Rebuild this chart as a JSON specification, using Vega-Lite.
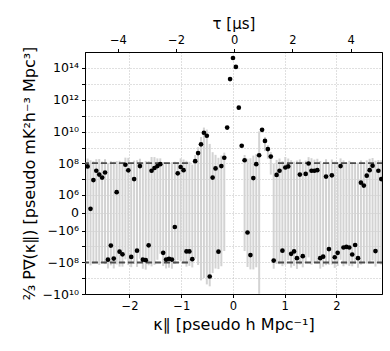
{
  "$schema": "https://vega.github.io/schema/vega-lite/v6.json",
  "width": 297,
  "height": 242,
  "autosize": {"type": "none"},
  "padding": {"left": 85, "top": 52, "right": 8, "bottom": 57},
  "background": "white",
  "config": {
    "font": "DejaVu Sans",
    "view": {"stroke": "black", "strokeWidth": 1},
    "axis": {
      "domainColor": "black",
      "tickColor": "black",
      "labelColor": "black",
      "titleColor": "black",
      "titleFontWeight": "normal",
      "labelFont": "DejaVu Sans",
      "titleFont": "DejaVu Sans",
      "labelOverlap": false,
      "labelBound": false,
      "labelFlush": false
    }
  },
  "datasets": {
    "pk": [
      {"k": -2.81, "P": 6.5e7, "lo": -7.5e7, "hi": 2.05e8},
      {"k": -2.7538, "P": 6.3e4, "lo": -1.599e8, "hi": 1.6e8},
      {"k": -2.6976, "P": 9e6, "lo": -1.21e8, "hi": 1.39e8},
      {"k": -2.6414, "P": 3.5e7, "lo": -1.15e8, "hi": 1.85e8},
      {"k": -2.5852, "P": 2e7, "lo": -1.5e8, "hi": 1.9e8},
      {"k": -2.529, "P": 1.3e7, "lo": -1.07e8, "hi": 1.33e8},
      {"k": -2.4728, "P": 2.7e7, "lo": -1.33e8, "hi": 1.87e8},
      {"k": -2.4166, "P": -7e7, "lo": -2.5e8, "hi": 1.1e8},
      {"k": -2.3604, "P": -9e6, "lo": -1.59e8, "hi": 1.41e8},
      {"k": -2.3042, "P": -6e7, "lo": -2.5e8, "hi": 1.3e8},
      {"k": -2.248, "P": 1.5e6, "lo": -1.385e8, "hi": 1.415e8},
      {"k": -2.1918, "P": -2.2e7, "lo": -1.92e8, "hi": 1.48e8},
      {"k": -2.1356, "P": -3.2e7, "lo": -1.92e8, "hi": 1.28e8},
      {"k": -2.0794, "P": 8.3e7, "lo": -6.7e7, "hi": 2.33e8},
      {"k": -2.0232, "P": 3.7e7, "lo": -1.53e8, "hi": 2.27e8},
      {"k": -1.967, "P": -4.7e7, "lo": -2.07e8, "hi": 1.13e8},
      {"k": -1.9108, "P": 1.05e7, "lo": -1.295e8, "hi": 1.505e8},
      {"k": -1.8546, "P": -1.9e7, "lo": -1.99e8, "hi": 1.61e8},
      {"k": -1.7984, "P": 6.9e7, "lo": -6.1e7, "hi": 1.99e8},
      {"k": -1.7422, "P": -7e7, "lo": -2.6e8, "hi": 1.2e8},
      {"k": -1.686, "P": -7.5e7, "lo": -2.95e8, "hi": 1.45e8},
      {"k": -1.6298, "P": -8.7e6, "lo": -1.587e8, "hi": 1.413e8},
      {"k": -1.5736, "P": 3.5e7, "lo": -1.85e8, "hi": 2.55e8},
      {"k": -1.5174, "P": 5.2e7, "lo": -1.48e8, "hi": 2.52e8},
      {"k": -1.4612, "P": 6.9e7, "lo": -7.1e7, "hi": 2.09e8},
      {"k": -1.405, "P": 9e7, "lo": -3e7, "hi": 2.1e8},
      {"k": -1.3488, "P": -2.6e7, "lo": -1.76e8, "hi": 1.24e8},
      {"k": -1.2926, "P": -6.9e7, "lo": -2.49e8, "hi": 1.11e8},
      {"k": -1.2364, "P": -6.2e7, "lo": -2.22e8, "hi": 9.8e7},
      {"k": -1.1802, "P": -6.9e7, "lo": -2.59e8, "hi": 1.21e8},
      {"k": -1.124, "P": -5.4e5, "lo": -1.305e8, "hi": 1.295e8},
      {"k": -1.0678, "P": 2.4e7, "lo": -7.6e7, "hi": 1.24e8},
      {"k": -1.0116, "P": 6e7, "lo": -9e7, "hi": 2.1e8},
      {"k": -0.9554, "P": 3.8e7, "lo": -1.02e8, "hi": 1.78e8},
      {"k": -0.8992, "P": -2.1e7, "lo": -1.91e8, "hi": 1.49e8},
      {"k": -0.843, "P": -2.1e7, "lo": -1.71e8, "hi": 1.29e8},
      {"k": -0.7868, "P": -6.5e7, "lo": -2.15e8, "hi": 8.5e7},
      {"k": -0.7306, "P": 1.4e8, "lo": -6e7, "hi": 3.4e8},
      {"k": -0.6744, "P": 4.5e8, "lo": -1.5e8, "hi": 1.05e9},
      {"k": -0.6182, "P": 1.6e9, "lo": -1.4e9, "hi": 4.6e9},
      {"k": -0.562, "P": 8.5e9, "lo": -1e9, "hi": 1.8e10},
      {"k": -0.5058, "P": 5.5e9, "lo": -2.5e9, "hi": 1.35e10},
      {"k": -0.4496, "P": -8e8, "lo": -3.3e9, "hi": 1.7e9},
      {"k": -0.3934, "P": 1.3e7, "lo": -4.87e8, "hi": 5.13e8},
      {"k": -0.3372, "P": 4.9e7, "lo": -2.51e8, "hi": 3.49e8},
      {"k": -0.281, "P": -2.2e7, "lo": -2.72e8, "hi": 2.28e8},
      {"k": -0.2248, "P": 6.9e7, "lo": -1.81e8, "hi": 3.19e8},
      {"k": -0.1686, "P": 2.3e8, "lo": -2e7, "hi": 4.8e8},
      {"k": -0.1124, "P": 1.8e10, "lo": 1.7e10, "hi": 1.9e10},
      {"k": -0.0562, "P": 2e13, "lo": 1.9e13, "hi": 2.1e13},
      {"k": 0, "P": 4.2e14, "lo": 4.1e14, "hi": 4.3e14},
      {"k": 0.0562, "P": 1.15e14, "lo": 1.1e14, "hi": 1.2e14},
      {"k": 0.1124, "P": 3.2e11, "lo": 3e11, "hi": 3.4e11},
      {"k": 0.1686, "P": 1.3e9, "lo": 1e9, "hi": 1.6e9},
      {"k": 0.2248, "P": 1.6e8, "lo": -2e7, "hi": 3.4e8},
      {"k": 0.281, "P": -1.3e6, "lo": -2.013e8, "hi": 1.987e8},
      {"k": 0.3372, "P": -3.6e7, "lo": -2.86e8, "hi": 2.14e8},
      {"k": 0.3934, "P": 1.2e7, "lo": -2.88e8, "hi": 3.12e8},
      {"k": 0.4496, "P": 9e7, "lo": -2.1e8, "hi": 3.9e8},
      {"k": 0.5058, "P": 3.3e8, "lo": -9.67e9, "hi": 1.033e10},
      {"k": 0.562, "P": 1.3e10, "lo": 9e9, "hi": 1.7e10},
      {"k": 0.6182, "P": 2.6e9, "lo": 6e8, "hi": 4.6e9},
      {"k": 0.6744, "P": 8e8, "lo": 2e8, "hi": 1.4e9},
      {"k": 0.7306, "P": 2.7e8, "lo": 2e7, "hi": 5.2e8},
      {"k": 0.7868, "P": -8e7, "lo": -2.6e8, "hi": 1e8},
      {"k": 0.843, "P": 1.9e7, "lo": -1.31e8, "hi": 1.69e8},
      {"k": 0.8992, "P": 3.5e7, "lo": -1.35e8, "hi": 2.05e8},
      {"k": 0.9554, "P": -1.9e7, "lo": -1.79e8, "hi": 1.41e8},
      {"k": 1.0116, "P": 5.6e7, "lo": -1.44e8, "hi": 2.56e8},
      {"k": 1.0678, "P": 6.5e7, "lo": -7.5e7, "hi": 2.05e8},
      {"k": 1.124, "P": -3e7, "lo": -2.2e8, "hi": 1.6e8},
      {"k": 1.1802, "P": -2.1e7, "lo": -1.71e8, "hi": 1.29e8},
      {"k": 1.2364, "P": -5.6e7, "lo": -2.66e8, "hi": 1.54e8},
      {"k": 1.2926, "P": 2e7, "lo": -1.4e8, "hi": 1.8e8},
      {"k": 1.3488, "P": -4.2e7, "lo": -2.12e8, "hi": 1.28e8},
      {"k": 1.405, "P": 2.2e7, "lo": -1.08e8, "hi": 1.52e8},
      {"k": 1.4612, "P": 1e8, "lo": -5e7, "hi": 2.5e8},
      {"k": 1.5174, "P": 3.5e7, "lo": -1.45e8, "hi": 2.15e8},
      {"k": 1.5736, "P": 3.5e7, "lo": -1.05e8, "hi": 1.75e8},
      {"k": 1.6298, "P": 3.8e7, "lo": -1.22e8, "hi": 1.98e8},
      {"k": 1.686, "P": -5.6e7, "lo": -2.56e8, "hi": 1.44e8},
      {"k": 1.7422, "P": -4.5e7, "lo": -1.95e8, "hi": 1.05e8},
      {"k": 1.7984, "P": 1.5e7, "lo": -1.55e8, "hi": 1.85e8},
      {"k": 1.8546, "P": -1.5e7, "lo": -1.45e8, "hi": 1.15e8},
      {"k": 1.9108, "P": 1.8e7, "lo": -1.42e8, "hi": 1.78e8},
      {"k": 1.967, "P": -4.9e7, "lo": -2.29e8, "hi": 1.31e8},
      {"k": 2.0232, "P": -2.6e7, "lo": -1.76e8, "hi": 1.24e8},
      {"k": 2.0794, "P": 6.9e7, "lo": -7.1e7, "hi": 2.09e8},
      {"k": 2.1356, "P": -1.2e7, "lo": -1.82e8, "hi": 1.58e8},
      {"k": 2.1918, "P": -1.1e7, "lo": -1.41e8, "hi": 1.19e8},
      {"k": 2.248, "P": -1.2e7, "lo": -1.72e8, "hi": 1.48e8},
      {"k": 2.3042, "P": -3.3e7, "lo": -1.83e8, "hi": 1.17e8},
      {"k": 2.3604, "P": -8.3e6, "lo": -1.283e8, "hi": 1.117e8},
      {"k": 2.4166, "P": -5.6e7, "lo": -2.26e8, "hi": 1.14e8},
      {"k": 2.4728, "P": 6.2e6, "lo": -1.438e8, "hi": 1.562e8},
      {"k": 2.529, "P": 4e6, "lo": -9.6e7, "hi": 1.04e8},
      {"k": 2.5852, "P": 1.7e7, "lo": -1.23e8, "hi": 1.57e8},
      {"k": 2.6414, "P": 3.8e7, "lo": -1.22e8, "hi": 1.98e8},
      {"k": 2.6976, "P": 7.2e7, "lo": -7.8e7, "hi": 2.22e8},
      {"k": 2.7538, "P": -2e7, "lo": -1.9e8, "hi": 1.5e8},
      {"k": 2.81, "P": 3.5e7, "lo": -9.5e7, "hi": 1.65e8},
      {"k": 2.8662, "P": 1.05e7, "lo": -1.395e8, "hi": 1.605e8}
    ],
    "noise": [
      {"k0": -2.9, "k1": -0.86, "lvl": 1.05e8},
      {"k0": -2.9, "k1": -0.86, "lvl": -1.05e8},
      {"k0": 0.87, "k1": 2.9, "lvl": 1.05e8},
      {"k0": 0.87, "k1": 2.9, "lvl": -1.05e8}
    ],
    "tau": [{"tau": -4}, {"tau": 4}]
  },
  "layer": [
    {
      "layer": [
        {
          "data": {"name": "pk"},
          "mark": {"type": "rule", "color": "#d3d3d3", "strokeWidth": 2, "clip": true},
          "encoding": {
            "x": {
              "field": "k", "type": "quantitative",
              "scale": {"domain": [-2.86, 2.88], "nice": false, "zero": false},
              "axis": {
                "orient": "bottom",
                "values": [-2, -1, 0, 1, 2],
                "tickCount": 20,
                "format": "d",
                "title": "κ∥ [pseudo h Mpc⁻¹]",
                "titleFontSize": 16,
                "labelFontSize": 11.5,
                "tickSize": 3.5,
                "labelPadding": 3,
                "titlePadding": 4,
                "labelOverlap": false,
                "grid": true,
                "gridColor": "#b0b0b0",
                "gridDash": [1, 2],
                "gridWidth": 0.8
              }
            },
            "y": {
              "field": "lo", "type": "quantitative",
              "scale": {"type": "symlog", "constant": 80000, "domain": [-1e10, 1e15], "nice": false, "zero": false},
              "axis": {
                "values": [-1e10, -1e9, -1e8, -1e7, -1e6, 0, 1e6, 1e7, 1e8, 1e9, 1e10, 1e11, 1e12, 1e13, 1e14],
                "tickCount": 40,
                "labelExpr": "datum.value == 0 ? '0' : (round(log(abs(datum.value))/LN10) % 2 == 1 ? '' : (datum.value < 0 ? '−' : '') + '10' + (abs(datum.value) > 5e13 ? '¹⁴' : abs(datum.value) > 5e11 ? '¹²' : abs(datum.value) > 5e9 ? '¹⁰' : abs(datum.value) > 5e7 ? '⁸' : '⁶'))",
                "title": "⅔ P∇(κ∥) [pseudo mK²h⁻³ Mpc³]",
                "titleFontSize": 16,
                "labelFontSize": 12.5,
                "tickSize": 3.5,
                "labelPadding": 3,
                "titlePadding": 5,
                "labelOverlap": false,
                "grid": true,
                "gridColor": "#b0b0b0",
                "gridDash": [1, 2],
                "gridWidth": 0.8
              }
            },
            "y2": {"field": "hi"}
          }
        },
        {
          "data": {"name": "noise"},
          "mark": {"type": "rule", "color": "#4d4d4d", "strokeWidth": 1.8, "strokeDash": [6, 3], "clip": true},
          "encoding": {
            "x": {"field": "k0", "type": "quantitative"},
            "x2": {"field": "k1"},
            "y": {"field": "lvl", "type": "quantitative"}
          }
        },
        {
          "mark": {"type": "rule", "color": "black", "strokeWidth": 1.2},
          "encoding": {"y": {"datum": 0, "type": "quantitative"}}
        },
        {
          "data": {"name": "pk"},
          "mark": {"type": "circle", "color": "black", "size": 22, "opacity": 1, "clip": true},
          "encoding": {
            "x": {"field": "k", "type": "quantitative"},
            "y": {"field": "P", "type": "quantitative"}
          }
        },
        {
          "mark": {"type": "text", "text": "z = 7.7", "align": "right", "baseline": "alphabetic", "fontSize": 10.5, "font": "DejaVu Sans", "color": "black"},
          "encoding": {
            "x": {"datum": 2.6, "type": "quantitative"},
            "y": {"datum": 1e14, "type": "quantitative"}
          }
        }
      ]
    },
    {
      "data": {"name": "tau"},
      "mark": {"type": "point", "opacity": 0},
      "encoding": {
        "x": {
          "field": "tau", "type": "quantitative",
          "scale": {"domain": [-5.13, 5.08], "nice": false, "zero": false},
          "axis": {
            "orient": "top",
            "values": [-4, -2, 0, 2, 4],
            "tickCount": 20,
            "format": "d",
            "title": "τ [μs]",
            "titleFontSize": 15,
            "labelFontSize": 11.5,
            "tickSize": 3.5,
            "labelPadding": 3,
            "titlePadding": 3,
            "labelOverlap": false,
            "grid": false
          }
        }
      }
    }
  ],
  "resolve": {"scale": {"x": "independent"}, "axis": {"x": "independent"}}
}
